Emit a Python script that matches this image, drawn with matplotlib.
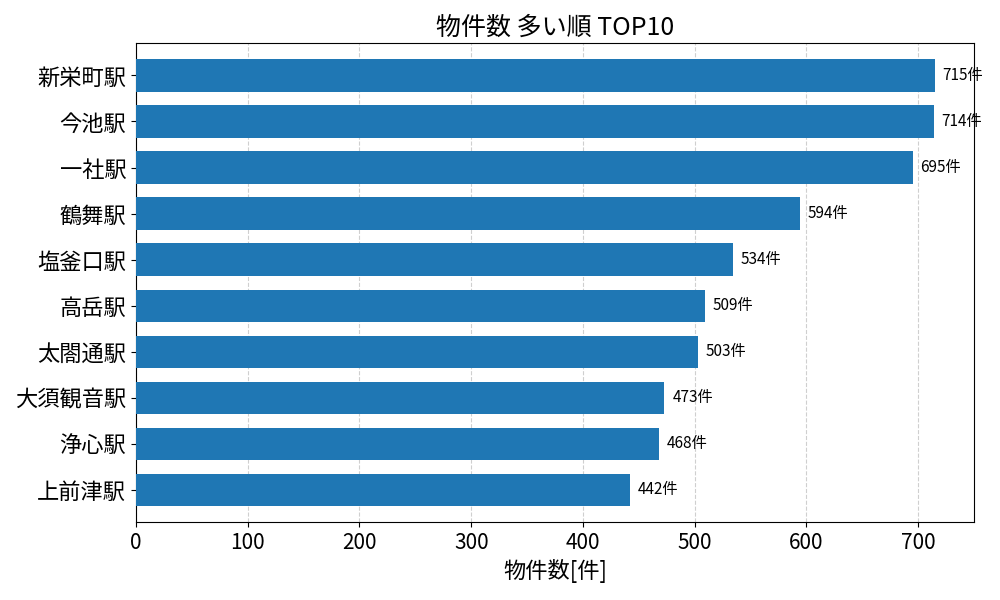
import matplotlib
matplotlib.use("Agg")
import matplotlib.pyplot as plt

plt.rcParams['font.family'] = ['Noto Sans CJK JP', 'DejaVu Sans']

stations = ["新栄町駅", "今池駅", "一社駅", "鶴舞駅", "塩釜口駅", "高岳駅", "太閤通駅", "大須観音駅", "浄心駅", "上前津駅"]
counts = [715, 714, 695, 594, 534, 509, 503, 473, 468, 442]

fig = plt.figure(figsize=(10, 6), dpi=100)
ax = fig.add_axes([0.136, 0.13, 0.838, 0.798])
ax.barh(stations[::-1], counts[::-1], height=0.7, color='#1f77b4', zorder=3)
for i, v in enumerate(counts[::-1]):
    ax.text(v + 7, i, f"{v}件", va='center', ha='left', fontsize=11)
ax.set_xlim(0, 750)
ax.set_ylim(-0.7, 9.7)
ax.grid(axis='x', linestyle='--', alpha=0.6, zorder=0)
ax.set_title("物件数 多い順 TOP10", fontsize=18)
ax.set_xlabel("物件数[件]", fontsize=16)
ax.tick_params(axis='y', labelsize=16)
ax.tick_params(axis='x', labelsize=15)
fig.savefig("out.png", dpi=100)
